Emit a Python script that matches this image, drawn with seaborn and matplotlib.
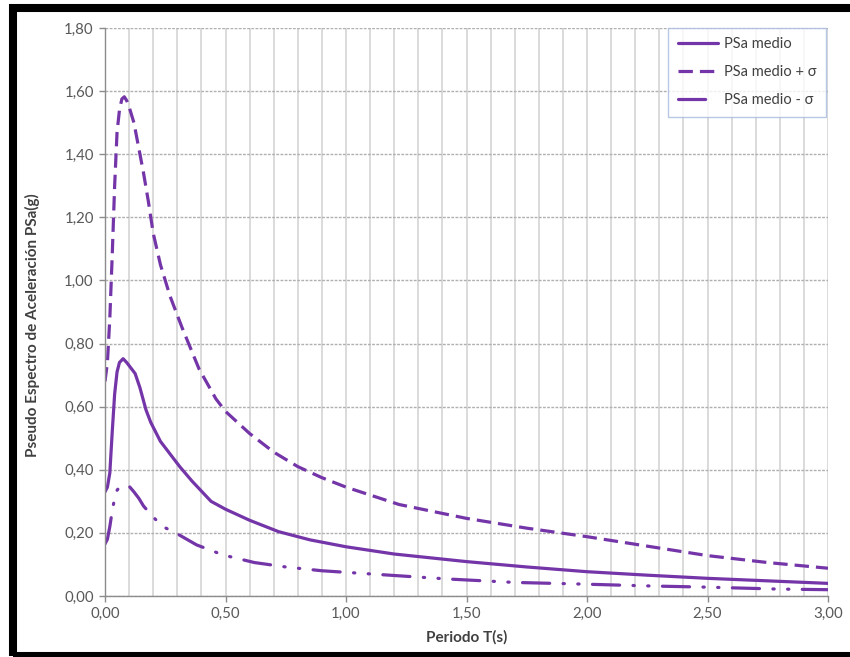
import matplotlib
matplotlib.use("Agg")
import matplotlib.pyplot as plt
import matplotlib.ticker as mticker
from matplotlib.patches import Rectangle
import seaborn as sns

# ---- data ----
T_mean = [0.0, 0.01, 0.02, 0.03, 0.04, 0.05, 0.06, 0.075, 0.09, 0.11, 0.125, 0.145, 0.17,
          0.19, 0.23, 0.27, 0.31, 0.36, 0.44, 0.5, 0.6, 0.72, 0.85, 1.0, 1.2, 1.5, 1.75,
          2.0, 2.25, 2.5, 2.75, 3.0]
psa_mean = [0.33, 0.345, 0.39, 0.52, 0.64, 0.71, 0.74, 0.752, 0.74, 0.72, 0.705, 0.66, 0.59,
            0.55, 0.49, 0.45, 0.41, 0.365, 0.30, 0.275, 0.24, 0.204, 0.178, 0.156, 0.133,
            0.109, 0.092, 0.077, 0.066, 0.056, 0.048, 0.040]

T_plus = [0.0, 0.01, 0.02, 0.03, 0.04, 0.05, 0.06, 0.07, 0.08, 0.09, 0.10, 0.12, 0.14, 0.16,
          0.18, 0.20, 0.23, 0.27, 0.32, 0.39, 0.46, 0.5, 0.6, 0.7, 0.8, 0.9, 1.0, 1.22, 1.5,
          1.75, 2.0, 2.25, 2.5, 2.75, 3.0]
psa_plus = [0.68, 0.74, 0.88, 1.08, 1.30, 1.47, 1.54, 1.575, 1.582, 1.57, 1.55, 1.50, 1.42,
            1.34, 1.25, 1.15, 1.05, 0.95, 0.85, 0.72, 0.625, 0.585, 0.515, 0.456, 0.41,
            0.375, 0.345, 0.29, 0.246, 0.215, 0.188, 0.158, 0.128, 0.106, 0.088]

T_minus = [0.0, 0.01, 0.02, 0.03, 0.04, 0.05, 0.06, 0.08, 0.10, 0.12, 0.14, 0.16, 0.20, 0.24,
           0.30, 0.38, 0.49, 0.62, 0.75, 0.90, 1.0, 1.22, 1.42, 1.70, 1.97, 2.25, 2.50,
           2.79, 3.0]
psa_minus = [0.165, 0.18, 0.22, 0.27, 0.31, 0.335, 0.345, 0.348, 0.348, 0.33, 0.31, 0.285,
             0.25, 0.22, 0.197, 0.162, 0.13, 0.106, 0.092, 0.08, 0.075, 0.064, 0.054, 0.043,
             0.038, 0.032, 0.028, 0.022, 0.020]

series_labels = ["PSa medio", "PSa medio + σ", "PSa medio - σ"]
x_label = "Periodo T(s)"
y_label = "Pseudo Espectro de Aceleración PSa(g)"

# ---- styling ----
sns.set_theme(style="white")
plt.rcParams["font.family"] = ["Lato", "DejaVu Sans"]

purple = "#7435A8"
text_gray = "#595959"

fig = plt.figure(figsize=(8.5, 6.57), dpi=100)
ax = fig.add_axes([105 / 850, 1 - 596 / 657, 723 / 850, 568 / 657])

sns.lineplot(x=T_mean, y=psa_mean, ax=ax, color=purple, lw=2.3,
             label=series_labels[0], sort=False)
sns.lineplot(x=T_plus, y=psa_plus, ax=ax, color=purple, lw=2.3,
             linestyle=(0, (4.5, 2.2)), label=series_labels[1], sort=False)
sns.lineplot(x=T_minus, y=psa_minus, ax=ax, color=purple, lw=2.3,
             linestyle=(0, (8.5, 4.2, 0.4, 4.2, 0.4, 4.2)), label=series_labels[2],
             sort=False, dash_capstyle="round")

ax.set_xlim(0, 3.0)
ax.set_ylim(0, 1.8)
ax.xaxis.set_major_locator(mticker.MultipleLocator(0.5))
ax.xaxis.set_minor_locator(mticker.MultipleLocator(0.1))
ax.yaxis.set_major_locator(mticker.MultipleLocator(0.2))
fmt = mticker.FuncFormatter(lambda v, p: f"{v:.2f}".replace(".", ","))
ax.xaxis.set_major_formatter(fmt)
ax.yaxis.set_major_formatter(fmt)

ax.grid(True, which="both", axis="x", color="#d4d4d4", lw=1.2, ls="-")
ax.grid(True, which="major", axis="y", color="#b0b0b0", lw=1.0, ls=(0, (2, 1)))
ax.set_axisbelow(True)

for s in ["top", "right"]:
    ax.spines[s].set_visible(False)
for s in ["left", "bottom"]:
    ax.spines[s].set_color("#8c8c8c")
    ax.spines[s].set_linewidth(1.0)

ax.tick_params(axis="both", which="major", direction="out", length=4, width=1,
               color="#8c8c8c", labelcolor=text_gray, labelsize=10.8, pad=4,
               left=True, bottom=True)
ax.tick_params(axis="x", which="minor", length=0)

ax.set_xlabel(x_label, fontsize=11, fontweight="bold", color="#404040")
ax.set_ylabel(y_label, fontsize=11, fontweight="bold", color="#404040")
ax.xaxis.set_label_coords(0.5, -0.072)
ax.xaxis.label.set_va("center")
ax.yaxis.set_label_coords((32 - 105) / 723, (596 - 325) / 568)
ax.yaxis.label.set_va("center")

leg = ax.legend(loc="upper right", bbox_to_anchor=(0.997, 1.0), borderaxespad=0,
                fontsize=10.5, frameon=True, fancybox=False, handlelength=2.75,
                labelspacing=0.95, borderpad=0.65, handletextpad=0.4)
leg.get_frame().set_edgecolor("#A7B9DD")
leg.get_frame().set_linewidth(1.0)
for t in leg.get_texts():
    t.set_color("#404040")

# black outer frame
fig.patches.append(Rectangle((13 / 850, 1 / 657), (851 - 13) / 850, (656 - 8) / 657,
                             transform=fig.transFigure, fill=False, edgecolor="black",
                             linewidth=5.8, zorder=10))

fig.savefig("out.png", dpi=100, facecolor="white")
